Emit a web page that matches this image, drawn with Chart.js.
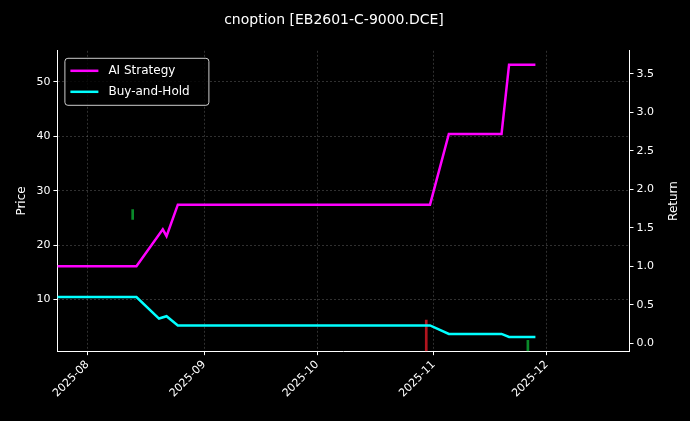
<!DOCTYPE html>
<html>
<head>
<meta charset="utf-8">
<script src="https://cdn.jsdelivr.net/npm/chart.js@4/dist/chart.umd.min.js"></script>
<style>
  html, body { margin: 0; padding: 0; background: #000; }
  #wrap { width: 690px; height: 421px; }
</style>
</head>
<body>
<div id="wrap"><canvas id="chart" width="690" height="421"></canvas></div>
<script>
// return curves (right axis), corner points only
const aiDates = ['2025-07-24', '2025-08-14', '2025-08-21', '2025-08-22', '2025-08-25', '2025-10-31', '2025-11-05', '2025-11-19', '2025-11-21', '2025-11-28'];
const aiValues = [1.0, 1.0, 1.48, 1.39, 1.80, 1.80, 2.72, 2.72, 3.62, 3.62];
const bhDates = ['2025-07-24', '2025-08-14', '2025-08-20', '2025-08-22', '2025-08-25', '2025-10-31', '2025-11-05', '2025-11-19', '2025-11-21', '2025-11-28'];
const bhValues = [0.60, 0.60, 0.32, 0.35, 0.23, 0.23, 0.12, 0.12, 0.08, 0.08];

// visible candle bodies (left axis, price)
const candleDates = ['2025-08-13', '2025-10-30', '2025-11-26'];
const candleLow = [24.7, 0.5, 0.5];
const candleHigh = [26.5, 6.2, 2.5];
const candleColors = ['#0a8a2a', '#b0141e', '#0a8a2a'];

const monthTicks = ['2025-08-01', '2025-09-01', '2025-10-01', '2025-11-01', '2025-12-01'];

const DAY = 86400000;
const toDay = s => Date.parse(s + 'T00:00:00Z') / DAY;
const fmtMonth = d => {
    const dt = new Date(d * DAY);
    return dt.getUTCFullYear() + '-' + String(dt.getUTCMonth() + 1).padStart(2, '0');
};

const pts = (dates, vals) => dates.map((d, i) => ({ x: toDay(d), y: vals[i] }));

// matplotlib-like legend box and right axis label
const extras = {
    id: 'extras',
    beforeDraw(chart) {
        const { ctx, width, height } = chart;
        ctx.save();
        ctx.fillStyle = '#000';
        ctx.fillRect(0, 0, width, height);
        ctx.restore();
    },
    afterDraw(chart) {
        const { ctx, chartArea } = chart;
        ctx.save();
        const x0 = chartArea.left + 7, y0 = chartArea.top + 7;
        ctx.fillStyle = 'rgba(0,0,0,0.8)';
        ctx.strokeStyle = '#cccccc';
        ctx.lineWidth = 1;
        ctx.beginPath();
        ctx.roundRect(x0 + 0.5, y0 + 0.5, 144, 47, 3);
        ctx.fill();
        ctx.stroke();
        ctx.font = '12px "DejaVu Sans"';
        ctx.textBaseline = 'middle';
        const items = chart.data.datasets.filter(d => d.type === 'line');
        items.forEach((ds, i) => {
            const y = y0 + 13 + i * 21;
            ctx.strokeStyle = ds.borderColor;
            ctx.lineWidth = 2.5;
            ctx.beginPath();
            ctx.moveTo(x0 + 6, y);
            ctx.lineTo(x0 + 34, y);
            ctx.stroke();
            ctx.fillStyle = '#ffffff';
            ctx.fillText(ds.label, x0 + 44, y);
        });
        ctx.translate(674, (chartArea.top + chartArea.bottom) / 2);
        ctx.rotate(-Math.PI / 2);
        ctx.textAlign = 'center';
        ctx.fillStyle = '#ffffff';
        ctx.fillText('Return', 0, 0);
        ctx.restore();
    }
};

new Chart(document.getElementById('chart').getContext('2d'), {
    data: {
        datasets: [{
            type: 'bar',
            label: 'candles',
            data: candleDates.map((d, i) => ({ x: toDay(d), y: [candleLow[i], candleHigh[i]] })),
            backgroundColor: candleColors,
            barThickness: 2,
            yAxisID: 'y',
            order: 3
        }, {
            type: 'line',
            label: 'AI Strategy',
            data: pts(aiDates, aiValues),
            borderColor: '#ff00ff',
            borderWidth: 2.5,
            pointRadius: 0,
            tension: 0,
            yAxisID: 'y1',
            order: 1
        }, {
            type: 'line',
            label: 'Buy-and-Hold',
            data: pts(bhDates, bhValues),
            borderColor: '#00ffff',
            borderWidth: 2.5,
            pointRadius: 0,
            tension: 0,
            yAxisID: 'y1',
            order: 2
        }]
    },
    options: {
        responsive: false,
        animation: false,
        layout: { padding: { left: 11, right: 33, top: 4, bottom: 18 } },
        plugins: {
            title: {
                display: true,
                text: 'cnoption [EB2601-C-9000.DCE]',
                color: '#ffffff',
                font: { family: 'DejaVu Sans', size: 14, weight: 'normal' },
                padding: { top: 8, bottom: 22 }
            },
            legend: { display: false },
            tooltip: { enabled: false }
        },
        scales: {
            x: {
                type: 'linear',
                offset: false,
                min: toDay('2025-07-24'),
                max: toDay('2025-12-23'),
                afterBuildTicks(axis) {
                    axis.ticks = monthTicks.map(d => ({ value: toDay(d) }));
                },
                ticks: {
                    color: '#ffffff',
                    maxRotation: 45,
                    minRotation: 45,
                    font: { family: 'DejaVu Sans', size: 11 },
                    callback: v => fmtMonth(v)
                },
                grid: { offset: false, color: 'rgba(160,160,160,0.3)', tickColor: '#ffffff', tickLength: 4 },
                border: { color: '#ffffff', dash: [2, 2] }
            },
            y: {
                position: 'left',
                min: 0.5,
                max: 55.7,
                afterBuildTicks(axis) {
                    axis.ticks = [10, 20, 30, 40, 50].map(v => ({ value: v }));
                },
                title: { display: true, text: 'Price', color: '#ffffff', font: { family: 'DejaVu Sans', size: 12 } },
                ticks: { color: '#ffffff', font: { family: 'DejaVu Sans', size: 11 } },
                grid: { color: 'rgba(160,160,160,0.3)', tickColor: '#ffffff', tickLength: 4 },
                border: { color: '#ffffff', dash: [2, 2] }
            },
            y1: {
                position: 'right',
                min: -0.104,
                max: 3.80,
                afterBuildTicks(axis) {
                    axis.ticks = [0, 0.5, 1, 1.5, 2, 2.5, 3, 3.5].map(v => ({ value: v }));
                },
                ticks: { color: '#ffffff', font: { family: 'DejaVu Sans', size: 11 }, callback: v => v.toFixed(1) },
                grid: { drawOnChartArea: false, tickColor: '#ffffff', tickLength: 4 },
                border: { color: '#ffffff' }
            }
        }
    },
    plugins: [extras]
});
</script>
</body>
</html>
